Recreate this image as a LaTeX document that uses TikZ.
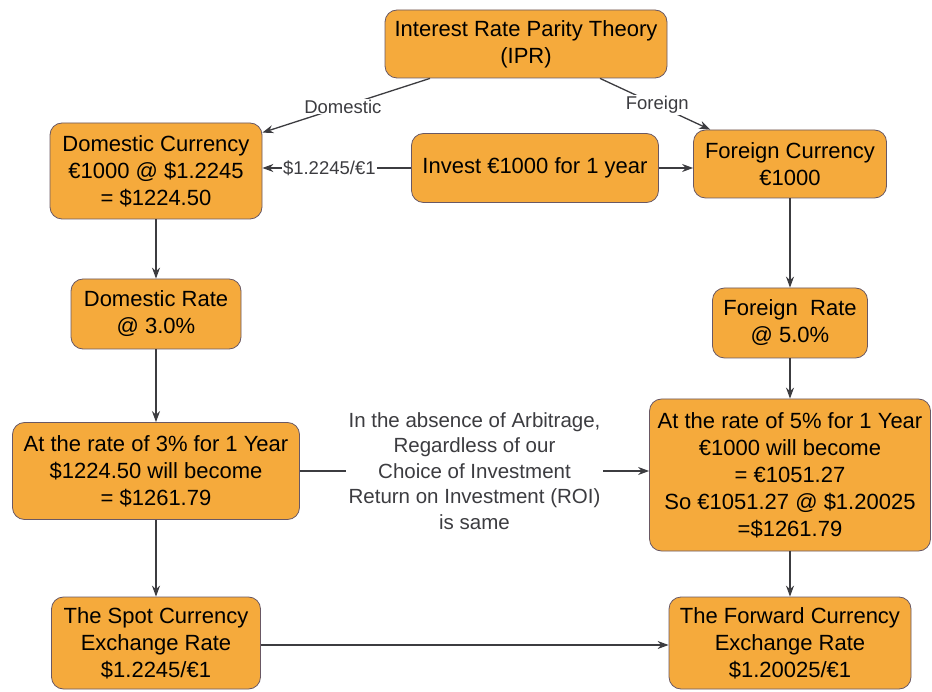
\documentclass[tikz,border=0pt]{standalone}
\usepackage{fontspec}
\setmainfont{Liberation Sans}
\usetikzlibrary{arrows.meta}
\definecolor{boxfill}{RGB}{245,170,60}
\definecolor{boxdraw}{RGB}{105,88,100}
\definecolor{linec}{RGB}{60,60,64}
\tikzset{
  box/.style={draw=boxdraw, fill=boxfill, rounded corners=12pt, align=center,
    font=\fontsize{22}{27}\selectfont, inner sep=0pt, line width=0.8pt},
  conn/.style={draw=linec, line width=1.3pt, -{Stealth[length=11pt,width=8pt]}},
  lbl/.style={font=\fontsize{18.5}{22}\selectfont, text=linec, fill=white, inner sep=1pt},
  midtext/.style={font=\fontsize{20.5}{25.5}\selectfont, text=linec, fill=white, align=center, inner sep=3pt}
}
\begin{document}
\begin{tikzpicture}[x=1pt,y=-1pt]
\useasboundingbox[fill=white] (0,0) rectangle (932,692);
\node[box, minimum width=282pt, minimum height=68pt] (ipr) at (526,44) {Interest Rate Parity Theory\\(IPR)};
\node[box, minimum width=212pt, minimum height=96pt] (dc) at (156,171) {Domestic Currency\\€1000 @ \$1.2245\\= \$1224.50};
\node[box, minimum width=247pt, minimum height=69pt] (inv) at (535,168) {Invest €1000 for 1 year};
\node[box, minimum width=193pt, minimum height=68pt] (fc) at (790,164) {Foreign Currency\\€1000};
\node[box, minimum width=170pt, minimum height=70pt] (dr) at (156,314) {Domestic Rate\\@ 3.0\%};
\node[box, minimum width=155pt, minimum height=70pt] (fr) at (790,323) {Foreign\ \ Rate\\@ 5.0\%};
\node[box, minimum width=287pt, minimum height=97pt] (r3) at (156,471) {At the rate of 3\% for 1 Year\\\$1224.50 will become\\= \$1261.79};
\node[box, minimum width=281pt, minimum height=152pt] (r5) at (790,475) {At the rate of 5\% for 1 Year\\€1000 will become\\= €1051.27\\So €1051.27 @ \$1.20025\\=\$1261.79};
\node[box, minimum width=209pt, minimum height=92pt] (spot) at (156,643) {The Spot Currency\\Exchange Rate\\\$1.2245/€1};
\node[box, minimum width=242pt, minimum height=92pt] (fwd) at (790,643) {The Forward Currency\\Exchange Rate\\\$1.20025/€1};

\draw[conn] ([xshift=-96pt]ipr.south) -- ([yshift=-10pt]dc.north east) node[lbl, pos=0.52] {Domestic};
\draw[conn] ([xshift=74pt]ipr.south) -- ([xshift=17pt]fc.north west) node[lbl, pos=0.52] {Foreign};
\draw[conn] (inv.west) -- (inv.west -| dc.east) node[lbl, pos=0.55] {\$1.2245/€1};
\draw[conn] (inv.east) -- (inv.east -| fc.west);
\draw[conn] (dc.south) -- (dr.north);
\draw[conn] (dr.south) -- (r3.north);
\draw[conn] (r3.south) -- (spot.north);
\draw[conn] (fc.south) -- (fr.north);
\draw[conn] (fr.south) -- (r5.north);
\draw[conn] (r5.south) -- (fwd.north);
\draw[conn] (r3.east) -- (r3.east -| r5.west)
  node[midtext, pos=0.5] {In the absence of Arbitrage,\\Regardless of our\\Choice of Investment\\Return on Investment (ROI)\\is same};
\draw[conn] ([yshift=-2pt]spot.east) -- ([yshift=-2pt]spot.east -| fwd.west);
\end{tikzpicture}
\end{document}
